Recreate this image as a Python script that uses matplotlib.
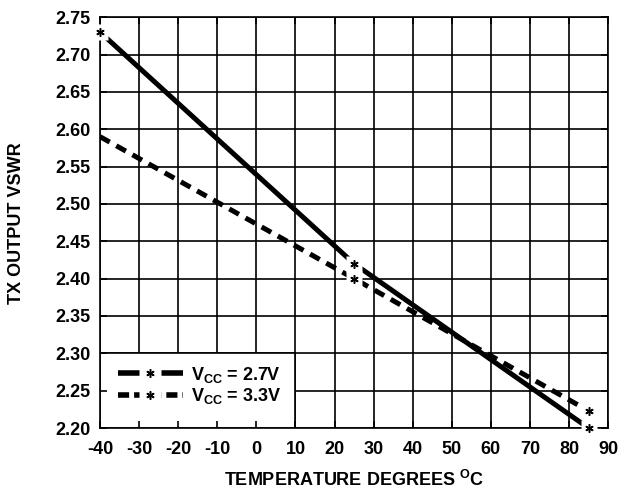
import matplotlib.pyplot as plt
from matplotlib.lines import Line2D
from matplotlib.patches import Rectangle
from matplotlib.legend_handler import HandlerTuple

plt.rcParams['font.family'] = ['Liberation Sans', 'DejaVu Sans']
plt.rcParams['font.weight'] = 'bold'
plt.rcParams['mathtext.fontset'] = 'custom'
plt.rcParams['mathtext.rm'] = 'Liberation Sans:bold'
plt.rcParams['mathtext.bf'] = 'Liberation Sans:bold'
plt.rcParams['mathtext.default'] = 'bf'

# ---------- Données ---------- #
temp_27 = [-40, 25, 85]
vswr_27 = [2.73, 2.42, 2.20]
temp_33 = [-40, 25, 85]
vswr_33 = [2.59, 2.40, 2.223]
x_ticks = [-40, -30, -20, -10, 0, 10, 20, 30, 40, 50, 60, 70, 80, 90]
y_ticks = [2.20, 2.25, 2.30, 2.35, 2.40, 2.45, 2.50, 2.55, 2.60, 2.65, 2.70, 2.75]

fig = plt.figure(figsize=(6.18, 4.92), dpi=100)
ax = fig.add_axes([0.162, 0.130, 0.822, 0.835])

# ---------- Grille ---------- #
for t in x_ticks:
    ax.axvline(t, color='black', lw=1.2, zorder=0.5)
for t in y_ticks:
    ax.axhline(t, color='black', lw=1.2, zorder=0.5)
# fond blanc de la légende
ax.add_patch(Rectangle((x_ticks[0], y_ticks[0]), x_ticks[5] - x_ticks[0], y_ticks[2] - y_ticks[0],
                       facecolor='white', edgecolor='black', lw=1.2, zorder=1))

# ---------- Courbes ---------- #
ax.plot(temp_27, vswr_27, color='black', lw=3.6, solid_capstyle='butt', zorder=3)
ax.plot(temp_33, vswr_33, color='black', lw=3.6, dashes=(2.2, 1.5), zorder=3)

STAR = dict(ls='none', marker=(6, 2, 0), ms=6, mew=1.1, color='black', zorder=5)
BOX = dict(ls='none', marker='s', ms=11, mfc='white', mec='none', zorder=4)

# marqueurs * avec fond blanc
ax.plot(temp_27, vswr_27, clip_on=False, **BOX)
ax.plot(temp_27, vswr_27, clip_on=False, **STAR)
ax.plot(temp_33, vswr_33, markevery=[1, 2], **BOX)
ax.plot(temp_33, vswr_33, markevery=[1, 2], **STAR)

ax.set_xlim(-40, 90)
ax.set_ylim(2.20, 2.75)
ax.set_xticks(x_ticks)
ax.set_yticks(y_ticks)
ax.set_xticklabels([str(t) for t in x_ticks])
ax.set_yticklabels(['%.2f' % t for t in y_ticks])
ax.tick_params(direction='in', length=5, width=1.2, labelsize=13, top=True, right=True)
ax.tick_params(axis='x', pad=9)
ax.tick_params(axis='y', pad=7)
for s in ax.spines.values():
    s.set_linewidth(1.2)
    s.set_zorder(2.6)

ax.set_xlabel(r'TEMPERATURE DEGREES $^\mathbf{O}$C', fontsize=13, fontweight='bold', labelpad=9)
ax.set_ylabel('TX OUTPUT VSWR', fontsize=13, fontweight='bold', labelpad=22)

def handle(dashed):
    kw = dict(dashes=(2.0, 0.9)) if dashed else {}
    ln = Line2D([], [], color='black', lw=4, solid_capstyle='butt', **kw)
    box = Line2D([], [], ls='none', marker='s', ms=16, mfc='white', mec='none')
    star = Line2D([], [], ls='none', marker=(6, 2, 0), ms=6, mew=1.1, color='black')
    return (ln, box, star)

leg = ax.legend([handle(False), handle(True)],
                [r'V$_\mathbf{CC}$ = 2.7V', r'V$_\mathbf{CC}$ = 3.3V'],
                handler_map={tuple: HandlerTuple(ndivide=1, pad=0)},
                loc='center', bbox_to_anchor=(-14.6, 2.257), bbox_transform=ax.transData,
                fontsize=13, frameon=False, handlelength=3.6, borderpad=0,
                handletextpad=0.45, labelspacing=0.1)
leg.set_zorder(6)

fig.savefig('out.png', dpi=100)
